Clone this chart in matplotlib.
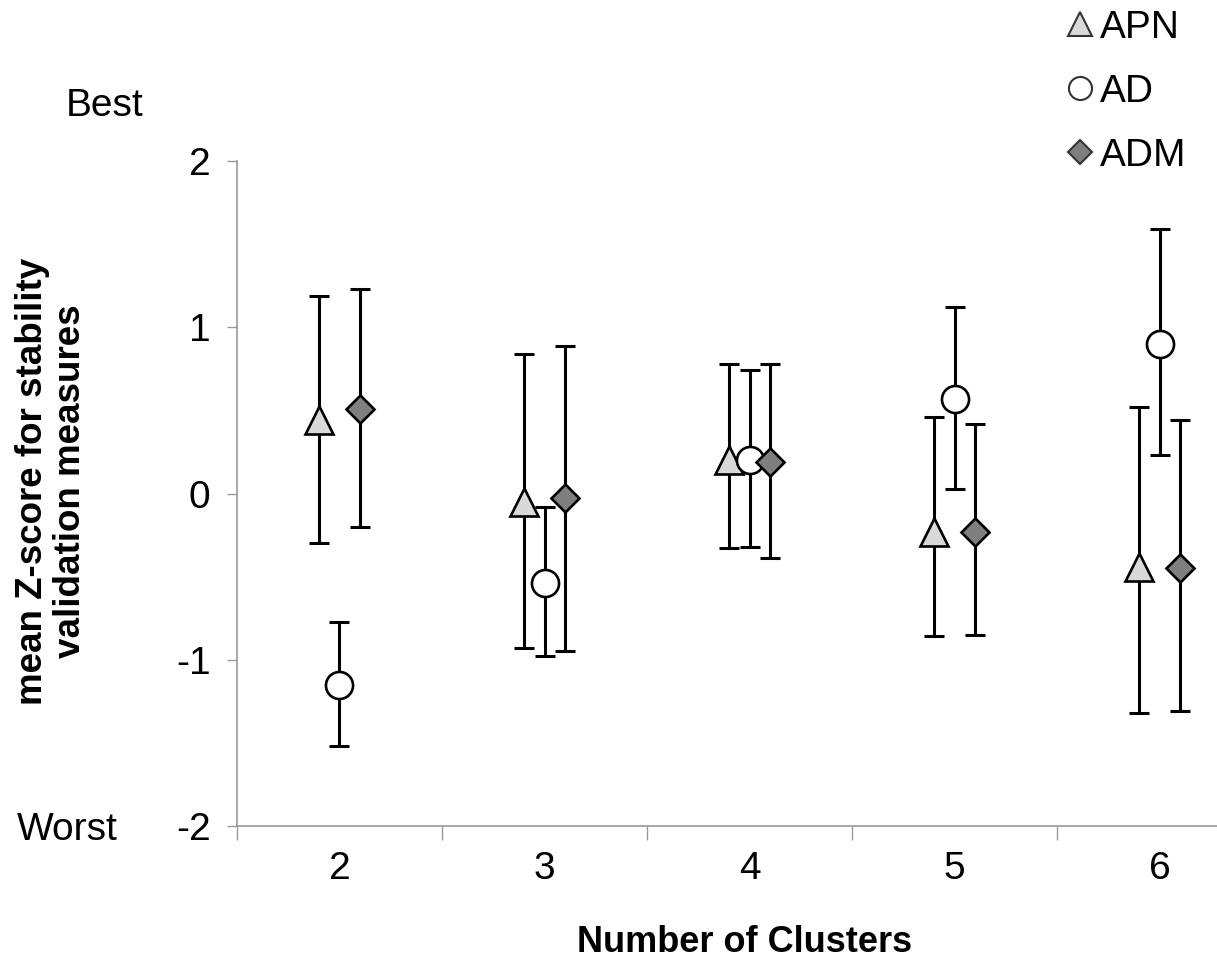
import matplotlib
matplotlib.use("Agg")
import matplotlib.pyplot as plt
from matplotlib.lines import Line2D
import numpy as np

plt.rcParams['font.family'] = ['Liberation Sans', 'DejaVu Sans']

clusters = [2, 3, 4, 5, 6]
series = ["APN", "AD", "ADM"]

apn_mean = [0.44, -0.05, 0.20, -0.23, -0.44]
apn_upper = [1.19, 0.84, 0.78, 0.46, 0.52]
apn_lower = [-0.30, -0.93, -0.33, -0.86, -1.32]

ad_mean = [-1.15, -0.54, 0.20, 0.57, 0.90]
ad_upper = [-0.77, -0.08, 0.74, 1.12, 1.59]
ad_lower = [-1.52, -0.98, -0.32, 0.03, 0.23]

adm_mean = [0.51, -0.03, 0.19, -0.23, -0.45]
adm_upper = [1.23, 0.89, 0.78, 0.42, 0.44]
adm_lower = [-0.20, -0.95, -0.39, -0.85, -1.31]

W, H = 1217, 967
fig = plt.figure(figsize=(W / 100, H / 100), dpi=100)
ax = fig.add_axes([237 / W, 1 - 826 / H, 1025 / W, 665 / H])

styles = [
    dict(mean=apn_mean, up=apn_upper, lo=apn_lower, marker='^', color='#d9d9d9', ms=20, off=-0.1),
    dict(mean=ad_mean, up=ad_upper, lo=ad_lower, marker='o', color='white', ms=19.5, off=0.0),
    dict(mean=adm_mean, up=adm_upper, lo=adm_lower, marker='D', color='#7f7f7f', ms=14, off=0.1),
]

x = np.array(clusters, dtype=float)
handles = []
for name, s in zip(series, styles):
    m = np.array(s['mean'])
    yerr = np.vstack([m - np.array(s['lo']), np.array(s['up']) - m])
    ax.errorbar(x + s['off'], m, yerr=yerr, fmt='none', ecolor='black',
                elinewidth=2.2, capsize=7, capthick=2.2, zorder=2)
    ax.plot(x + s['off'], m, linestyle='none', marker=s['marker'], ms=s['ms'],
            mfc=s['color'], mec='black', mew=1.9, zorder=3)
    handles.append(Line2D([], [], linestyle='none', marker=s['marker'],
                          ms=s['ms'] * 0.85, mfc=s['color'], mec='#333333', mew=1.5,
                          label=name))

ax.set_xlim(1.5, 6.5)
ax.set_ylim(-2, 2)

ax.set_yticks([-2, -1, 0, 1, 2])
ax.set_yticklabels(['-2', '-1', '0', '1', '2'], fontsize=28)
ax.tick_params(axis='y', direction='out', length=7, width=1, color='#999999', pad=12)

ax.set_xticks([1.5, 2.5, 3.5, 4.5, 5.5, 6.5])
ax.set_xticklabels([])
ax.tick_params(axis='x', which='major', direction='out', length=10, width=1, color='#999999')
ax.set_xticks(clusters, minor=True)
ax.set_xticklabels([str(c) for c in clusters], minor=True, fontsize=28)
ax.tick_params(axis='x', which='minor', length=0, pad=18)

for side in ['top', 'right']:
    ax.spines[side].set_visible(False)
for side in ['left', 'bottom']:
    ax.spines[side].set_color('#999999')
    ax.spines[side].set_linewidth(1.2)

fig.text(33 / W, 1 - 481 / H, 'mean Z-score for stability', rotation=90,
         fontsize=26.5, fontweight='bold', ha='center', va='center')
fig.text(71 / W, 1 - 481 / H, 'validation measures', rotation=90,
         fontsize=26.5, fontweight='bold', ha='center', va='center')
fig.text(745 / W, 1 - 943 / H, 'Number of Clusters', fontsize=26,
         fontweight='bold', ha='center', va='center')

fig.text(105 / W, 1 - 106 / H, 'Best', fontsize=28, ha='center', va='center')
fig.text(67 / W, 1 - 830 / H, 'Worst', fontsize=28, ha='center', va='center')

fig.legend(handles=handles, loc='upper left', bbox_to_anchor=(1049 / W, 1 + 6 / H),
           frameon=False, fontsize=28, handlelength=0.8, handletextpad=0.1,
           labelspacing=0.72, borderaxespad=0)

fig.savefig('out.png', dpi=100)
